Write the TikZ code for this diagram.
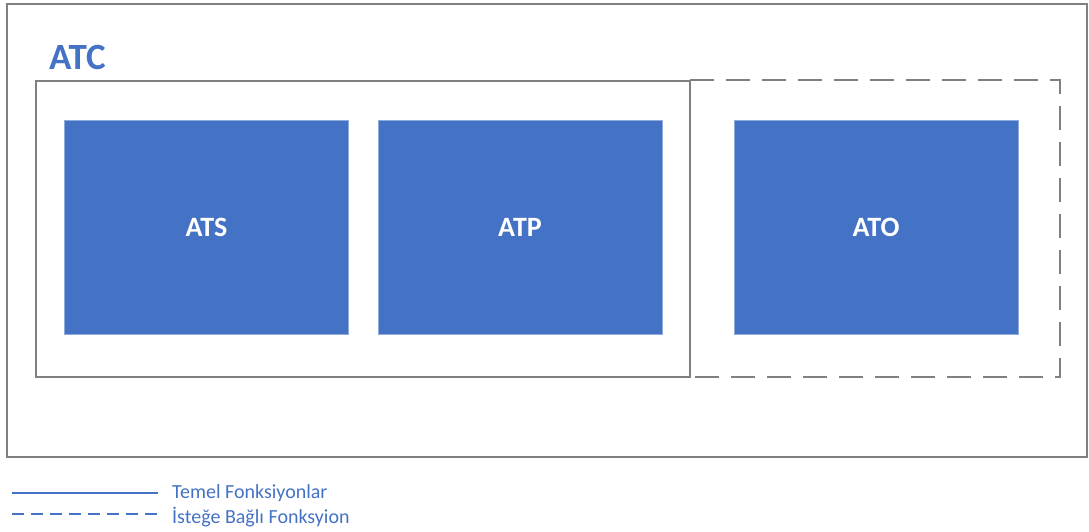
\documentclass[tikz,border=0pt]{standalone}
\usepackage{fontspec}
\setmainfont{Carlito}
\usepackage{tikz}
\usetikzlibrary{positioning}
\definecolor{blu}{HTML}{4472C4}
\definecolor{gry}{HTML}{808080}

\begin{document}
\begin{tikzpicture}[x=1pt,y=-1pt,
  fbox/.style={rectangle,fill=blu,draw=blu!60!white,line width=0.6pt,
    minimum width=284pt,minimum height=214pt,inner sep=0pt,
    text=white,font=\bfseries\fontsize{28}{32}\selectfont},
  frame/.style={draw=gry,line width=2.5pt},
  legtext/.style={text=blu,anchor=west,inner sep=0pt,font=\fontsize{20}{24}\selectfont}]
  \useasboundingbox (0,0) rectangle (1089,531);
  % outer frame
  \draw[frame,line width=2.8pt] (7,4) rectangle (1087,457);
  \node[text=blu,anchor=west,inner sep=0pt,font=\bfseries\fontsize{37}{40}\selectfont] (atc) at (49,57) {ATC};
  % base and optional parts
  \draw[frame] (36,81) rectangle (690,377);
  \draw[frame,dash pattern=on 24pt off 12pt] (690,80) -- (1060,80) -- (1060,377) -- (690,377);
  \node[fbox] (ats) at (206.5,227) {ATS};
  \node[fbox] (atp) at (520,227) {ATP};
  \node[fbox] (ato) at (876,227) {ATO};
  % legend
  \coordinate (l1a) at (12,493);
  \coordinate (l1b) at (158,493);
  \coordinate (l2a) at (12,514);
  \coordinate (l2b) at (158,514);
  \draw[blu,line width=1.5pt] (l1a) -- (l1b);
  \draw[blu,line width=1.5pt,dash pattern=on 12pt off 7pt] (l2a) -- (l2b);
  \node[legtext] (temel) at (172,493) {Temel Fonksiyonlar};
  \node[legtext] (isteg) at (172,517) {İsteğe Bağlı Fonksyion};
\end{tikzpicture}
\end{document}
